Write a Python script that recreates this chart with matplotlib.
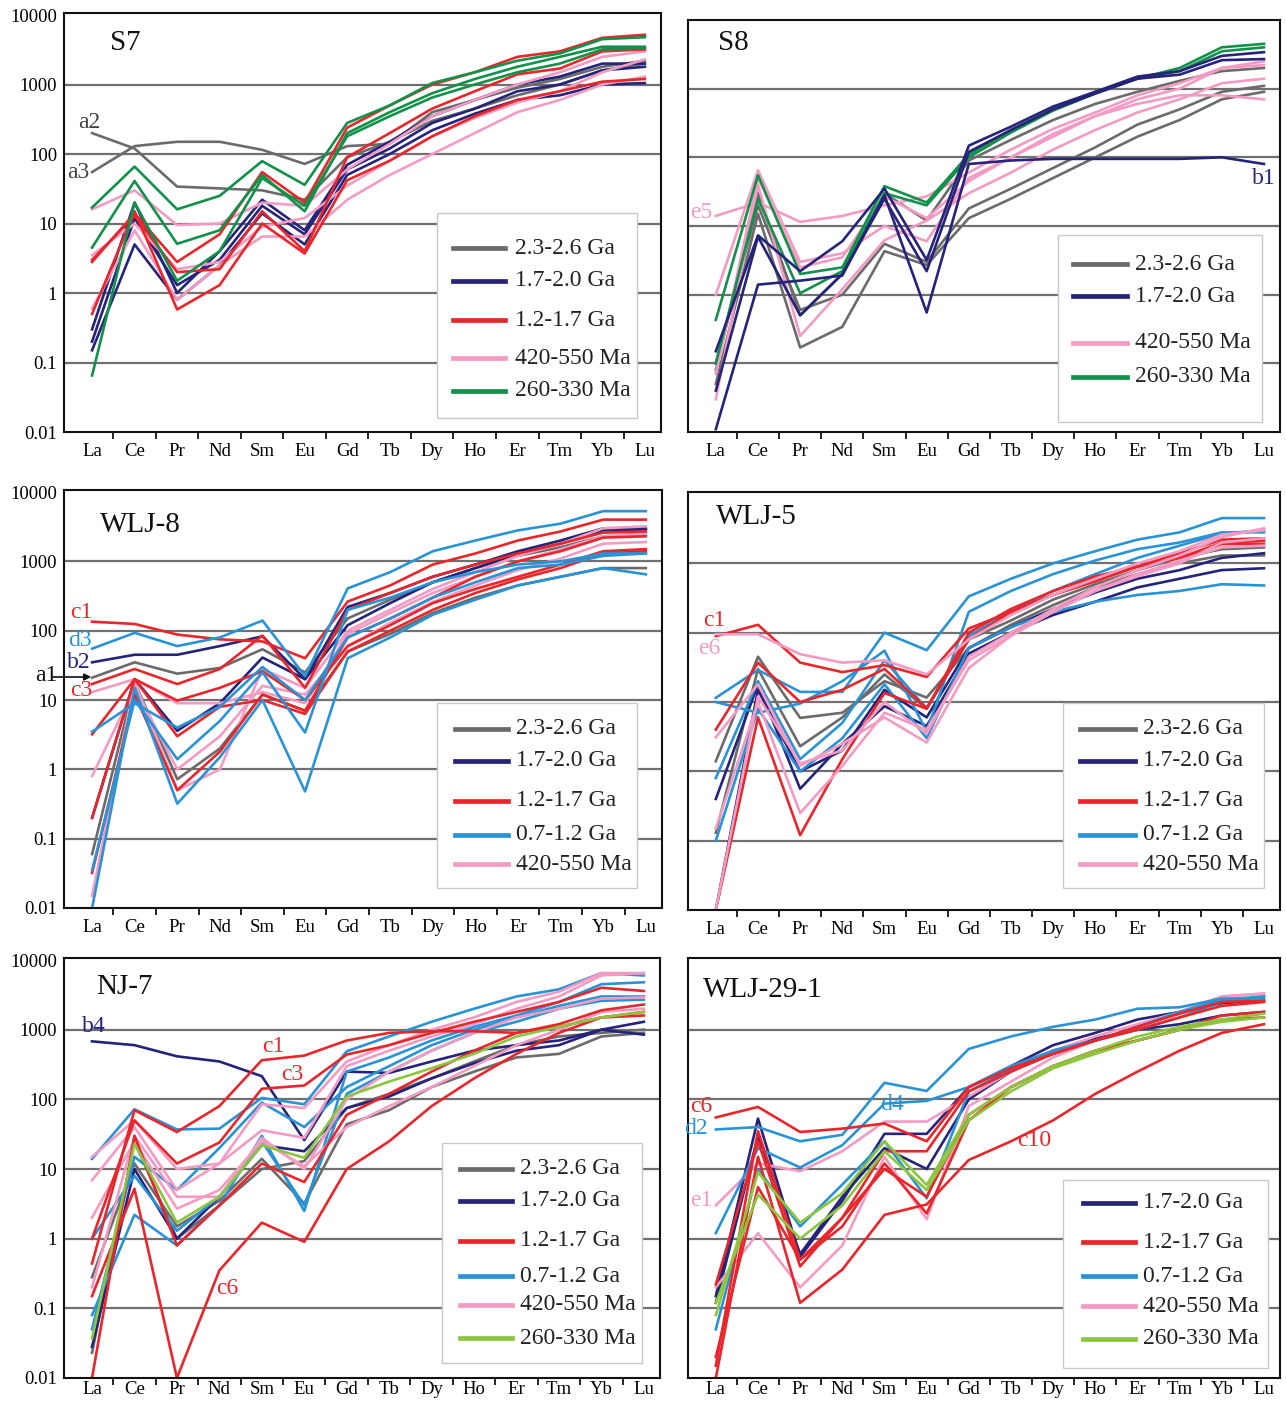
import numpy as np
import matplotlib
matplotlib.use("Agg")
import matplotlib.pyplot as plt
from matplotlib.lines import Line2D
from matplotlib.patches import Rectangle, FancyArrowPatch
from matplotlib.ticker import NullLocator

plt.rcParams['font.family'] = ['Liberation Serif', 'DejaVu Serif']

W, H = 1286, 1403

ree = ["La", "Ce", "Pr", "Nd", "Sm", "Eu", "Gd", "Tb", "Dy", "Ho", "Er", "Tm", "Yb", "Lu"]
y_ticks = [0.01, 0.1, 1, 10, 100, 1000, 10000]
y_tick_labels = ["0.01", "0.1", "1", "10", "100", "1000", "10000"]

colors = {
    "gray": "#6b6b6b", "navy": "#25237a", "red": "#e8262b", "blue": "#2a93d5",
    "pink": "#f39bc3", "green": "#11914a", "lime": "#8cc63e",
}
group_labels = {
    "gray": "2.3-2.6 Ga", "navy": "1.7-2.0 Ga", "red": "1.2-1.7 Ga",
    "blue": "0.7-1.2 Ga", "pink": "420-550 Ma", "green": "260-330 Ma", "lime": "260-330 Ma",
}

# ---- S7 ----
S7_GRAY = [
    [200, 120, 34, 32, 30, 22, 90, 150, 300, 450, 700, 1000, 1600, 2000],
    [55, 130, 150, 150, 115, 72, 130, 140, 400, 600, 900, 1200, 1800, 2200],
]
S7_NAVY = [
    [0.3, 20, 1.0, 4, 22, 8, 70, 150, 350, 600, 1000, 1300, 2000, 2000],
    [0.15, 5, 0.8, 2.5, 14, 5, 50, 100, 220, 380, 600, 700, 1000, 1050],
    [0.2, 12, 1.3, 3, 18, 7, 60, 120, 280, 450, 800, 1000, 1600, 1800],
]
S7_RED = [
    [2.8, 14, 2.8, 7, 55, 20, 240, 500, 1000, 1500, 2500, 3000, 4700, 5200],
    [0.5, 15, 0.58, 1.3, 10, 3.7, 42, 80, 180, 350, 600, 800, 1100, 1200],
    [3, 13, 2, 2.2, 15, 4, 90, 200, 450, 800, 1400, 1700, 3000, 3200],
]
S7_PINK = [
    [16, 30, 9.5, 10, 20, 18, 60, 140, 350, 600, 1000, 1500, 2500, 3000],
    [0.6, 8, 0.8, 2.5, 6.5, 6.5, 22, 50, 100, 200, 400, 600, 1000, 1300],
    [3.5, 10, 2.2, 2.8, 9, 12, 35, 80, 180, 330, 550, 800, 1500, 2300],
]
S7_GREEN = [
    [17, 66, 16, 25, 79, 36, 280, 500, 1050, 1500, 2200, 2800, 4500, 4800],
    [4.5, 41, 5.1, 8, 50, 15, 200, 400, 750, 1200, 1800, 2500, 3500, 3500],
    [0.065, 20, 1.5, 4, 45, 18, 180, 350, 650, 1000, 1500, 2000, 3200, 3300],
]

# ---- S8 ----
S8_GRAY = [
    [0.05, 15, 0.17, 0.34, 4.3, 2.7, 13, 25, 50, 100, 200, 350, 700, 900],
    [0.1, 20, 0.6, 1, 5.5, 3, 18, 35, 70, 140, 300, 500, 900, 1100],
    [0.08, 30, 0.5, 2, 30, 12, 90, 180, 350, 600, 900, 1300, 1800, 2000],
]
S8_NAVY = [
    [0.011, 1.4, 1.6, 1.9, 28, 0.55, 80, 90, 95, 95, 95, 95, 100, 80],
    [0.15, 7.3, 2.2, 6, 35, 3.2, 148, 280, 550, 900, 1500, 1800, 3000, 3400],
    [0.04, 7, 0.5, 2, 25, 2.2, 120, 250, 500, 850, 1400, 1600, 2600, 2700],
]
S8_PINK = [
    [14, 22, 11.5, 14, 20, 27, 60, 130, 260, 450, 800, 1200, 2000, 2500],
    [1, 65, 3, 4, 10, 6, 50, 100, 200, 400, 700, 1000, 2000, 2200],
    [0.03, 40, 0.25, 1.2, 6.2, 12, 30, 60, 130, 250, 450, 700, 1200, 1400],
    [0.07, 50, 2.5, 3.5, 27, 13, 45, 100, 220, 400, 600, 800, 800, 700],
]
S8_GREEN = [
    [0.43, 55, 2, 2.5, 38, 22, 110, 250, 500, 900, 1400, 2000, 4000, 4500],
    [0.1, 25, 1.05, 2.2, 30, 20, 100, 230, 480, 850, 1400, 1800, 3500, 4000],
]

# ---- WLJ-8 ----
W8_GRAY = [
    [21, 35, 24, 29, 54, 25, 150, 280, 500, 800, 1200, 1600, 2300, 2500],
    [0.06, 18, 0.72, 2, 12, 7, 50, 90, 180, 300, 450, 600, 800, 800],
]
W8_NAVY = [
    [35, 45, 45, 60, 83, 20, 220, 350, 600, 900, 1400, 2000, 3000, 3000],
    [0.2, 20, 3.6, 9, 41, 20, 120, 250, 500, 800, 1300, 1800, 2800, 2900],
]
W8_RED = [
    [135, 125, 88, 75, 70, 40, 263, 450, 900, 1300, 2000, 2700, 4000, 4000],
    [17, 28, 17, 28, 85, 15, 200, 350, 600, 900, 1300, 1800, 2600, 2700],
    [3.2, 20, 9.8, 15, 26, 10, 60, 120, 250, 400, 600, 900, 1400, 1500],
    [0.2, 20, 3, 8, 10, 6.3, 50, 100, 200, 350, 550, 800, 1300, 1400],
    [0.032, 12, 0.5, 1.8, 12, 7, 80, 150, 300, 600, 1000, 1400, 2200, 2300],
]
W8_BLUE = [
    [55, 93, 60, 80, 140, 22, 407, 700, 1400, 2000, 2800, 3500, 5300, 5300],
    [3.5, 9, 4, 8, 30, 10, 80, 150, 300, 500, 800, 900, 1200, 1300],
    [0.01, 15, 0.32, 1.5, 10, 0.48, 40, 80, 170, 280, 450, 600, 800, 650],
    [0.035, 10, 1.4, 5, 25, 3.4, 200, 300, 500, 700, 900, 1000, 1300, 1300],
]
W8_PINK = [
    [13, 20, 9, 9, 13, 9, 90, 180, 350, 600, 1000, 1500, 2300, 2500],
    [0.8, 15, 1, 3, 16, 12, 60, 130, 260, 450, 750, 1100, 1800, 1900],
    [0.015, 18, 0.5, 1, 28, 15, 100, 200, 400, 700, 1200, 1800, 3000, 3200],
]

# ---- WLJ-5 ----
W5_GRAY = [
    [1.4, 45, 5.9, 7, 20, 11.6, 60, 130, 250, 450, 700, 1000, 1300, 1300],
    [0.13, 30, 2.3, 6, 25, 8, 80, 150, 300, 500, 800, 1200, 1600, 1700],
]
W5_NAVY = [
    [0.4, 18, 0.56, 2.5, 8.7, 4.5, 50, 100, 180, 280, 450, 600, 800, 850],
    [0.01, 15, 1, 2, 15, 6, 60, 120, 220, 380, 600, 800, 1200, 1400],
]
W5_RED = [
    [89, 130, 37, 27, 34, 23, 115, 200, 350, 550, 900, 1200, 2000, 2100],
    [4, 37, 10, 15, 30, 8.2, 80, 200, 350, 600, 900, 1400, 2200, 2300],
    [0.01, 6, 0.12, 1.5, 13.5, 8, 100, 220, 400, 650, 900, 1200, 1900, 1900],
]
W5_BLUE = [
    [11.5, 29, 14, 14, 100, 56, 334, 600, 1000, 1500, 2200, 2800, 4500, 4500],
    [10, 7, 9.5, 20, 55, 3.8, 200, 400, 700, 1100, 1600, 2000, 2800, 2800],
    [0.1, 8, 1, 3, 18, 3, 60, 120, 200, 280, 350, 400, 500, 480],
    [0.8, 20, 1.5, 5, 40, 8, 90, 200, 400, 700, 1200, 1800, 2700, 3000],
]
W5_PINK = [
    [95, 95, 49, 37, 40, 25, 80, 180, 350, 600, 1000, 1500, 2600, 3000],
    [3.1, 18, 1.2, 2.5, 6, 2.6, 31, 90, 200, 400, 650, 1000, 2000, 2300],
    [0.15, 10, 0.25, 1.2, 7, 4, 40, 90, 200, 400, 700, 1100, 1700, 1800],
    [0.01, 12, 1.3, 2, 10, 3.5, 45, 100, 220, 450, 800, 1300, 2400, 3200],
]

# ---- NJ-7 ----
N7_GRAY = [
    [0.28, 12, 1.5, 3.5, 14, 3.2, 44, 70, 150, 250, 400, 450, 800, 900],
    [0.023, 25, 1.0, 3, 10, 13, 75, 120, 200, 350, 600, 800, 900, 1000],
]
N7_NAVY = [
    [680, 600, 415, 350, 215, 26, 250, 240, 350, 500, 600, 700, 1000, 1300],
    [0.028, 10, 1, 4, 22, 18, 75, 110, 200, 330, 500, 600, 1000, 850],
]
N7_RED = [
    [0.44, 70, 34, 80, 365, 425, 700, 900, 950, 950, 900, 1100, 1500, 1600],
    [1, 50, 12, 24, 142, 158, 440, 600, 900, 1300, 1800, 2500, 4000, 3600],
    [0.15, 5.2, 0.01, 0.35, 1.7, 0.9, 10, 25, 80, 200, 450, 900, 1500, 1800],
    [0.01, 30, 0.8, 3, 12, 6.5, 60, 120, 250, 500, 900, 1200, 1900, 2300],
]
N7_BLUE = [
    [14, 72, 37, 38, 105, 85, 490, 800, 1300, 2000, 3000, 3800, 6500, 6000],
    [0.08, 2.2, 0.8, 3, 30, 2.5, 250, 400, 700, 1100, 1600, 2500, 4500, 4800],
    [0.05, 15, 5, 20, 90, 40, 150, 300, 600, 1000, 1500, 2200, 3000, 3000],
    [1, 8, 1.3, 4, 25, 3, 120, 250, 500, 900, 1300, 2000, 2600, 2700],
]
N7_PINK = [
    [15, 50, 10, 12, 36, 28, 300, 500, 800, 1200, 2000, 3000, 6000, 6500],
    [6.9, 40, 5, 12, 85, 75, 350, 600, 1000, 1500, 2500, 3500, 6500, 6500],
    [2, 25, 2.7, 5, 25, 11, 40, 80, 150, 300, 600, 1000, 1800, 2000],
    [0.2, 30, 4, 4, 28, 10, 100, 250, 500, 900, 1500, 2000, 2800, 2900],
]
N7_LIME = [
    [0.037, 23, 1.7, 4, 22, 14.5, 110, 180, 280, 450, 800, 1100, 1500, 1800],
]

# ---- WLJ-29-1 ----
W29_NAVY = [
    [0.15, 53, 0.55, 3.5, 32, 32, 150, 300, 600, 900, 1400, 1800, 2400, 2600],
    [0.12, 30, 0.6, 4, 20, 10, 100, 250, 500, 750, 1000, 1200, 1600, 1800],
]
W29_RED = [
    [55, 78, 34, 38, 45, 25, 150, 280, 450, 700, 1000, 1500, 2200, 2500],
    [0.01, 15, 0.12, 0.36, 2.2, 3.1, 13.5, 25, 50, 120, 250, 500, 900, 1200],
    [0.015, 35, 0.5, 1.5, 12, 2.3, 50, 150, 300, 500, 700, 1000, 1600, 1800],
    [0.22, 25, 0.4, 2, 18, 18, 130, 250, 450, 700, 1100, 1700, 2500, 2600],
    [0.02, 5.5, 0.5, 2, 10, 4, 60, 150, 300, 500, 700, 1000, 1400, 1500],
]
W29_BLUE = [
    [37, 40, 25, 31, 173, 132, 530, 800, 1100, 1400, 2000, 2100, 2800, 2800],
    [1.2, 20, 10.5, 22, 87, 95, 150, 300, 500, 700, 1100, 1800, 2700, 3000],
    [0.05, 10, 1.5, 6, 25, 3.8, 130, 270, 500, 700, 1000, 1500, 2500, 3000],
]
W29_PINK = [
    [3, 12, 9.3, 18, 48, 48, 110, 250, 500, 800, 1200, 1800, 3000, 3300],
    [0.2, 1.2, 0.2, 0.8, 15, 1.9, 80, 180, 400, 700, 1100, 1800, 3000, 3300],
]
W29_LIME = [
    [0.08, 9, 1.7, 4.5, 25, 5.9, 60, 150, 300, 500, 800, 1100, 1400, 1700],
    [0.12, 4.3, 1, 3, 18, 5, 50, 130, 280, 450, 700, 1000, 1300, 1500],
]

fig = plt.figure(figsize=(W / 100, H / 100), dpi=100)


def fx(x):
    return x / W


def fy(y):
    return 1 - y / H


def make_axes(box, show_y, ytop, label_pad):
    x0, y0, x1, y1 = box
    ax = fig.add_axes([fx(x0), fy(y1), (x1 - x0) / W, (y1 - y0) / H])
    ax.set_yscale('log')
    ax.set_ylim(0.0105, ytop)
    ax.set_xlim(-0.66, 13.38)
    ax.set_xticks(range(len(ree)))
    ax.set_xticklabels(ree)
    ax.set_xticks(np.arange(0.5, 13, 1), minor=True)
    ax.tick_params(axis='x', which='major', length=0, pad=label_pad, labelsize=13.5)
    ax.tick_params(axis='x', which='minor', length=5, width=1.2, direction='out')
    ax.set_yticks(y_ticks)
    ax.set_yticklabels(y_tick_labels if show_y else [])
    ax.yaxis.set_minor_locator(NullLocator())
    ax.tick_params(axis='y', length=0, pad=5, labelsize=13.5)
    for v in [0.1, 1, 10, 100, 1000]:
        ax.axhline(v, color='#707070', lw=1.6, zorder=1)
    for s in ax.spines.values():
        s.set_linewidth(1.5)
        s.set_color('#111111')
    return ax


def draw_groups(ax, groups):
    x = np.arange(len(ree))
    for key, profiles in groups:
        for vals in profiles:
            ax.plot(x, vals, color=colors[key], lw=1.9, zorder=2)


def draw_legend(box, line_x, text_x, rows):
    x0, y0, x1, y1 = box
    fig.add_artist(Rectangle((fx(x0), fy(y1)), (x1 - x0) / W, (y1 - y0) / H,
                             transform=fig.transFigure, fc='white', ec='#c8c8c8',
                             lw=1.0, zorder=5))
    for key, y in rows:
        fig.add_artist(Line2D([fx(line_x[0]), fx(line_x[1])], [fy(y), fy(y)],
                              transform=fig.transFigure, color=colors[key],
                              lw=3.4, zorder=6))
        fig.text(fx(text_x), fy(y), group_labels[key], fontsize=17,
                 va='center', ha='left', zorder=6, color='#222222')


def label(x, y, s, key=None, color=None, size=17):
    c = color if color is not None else colors[key]
    fig.text(fx(x), fy(y), s, color=c, fontsize=size, ha='left', va='center')


panels = [
    dict(title="S7", box=(64, 13, 661, 432), show_y=True, title_xy=(110, 43),
         ytop=10700, pad=8,
         groups=[("gray", S7_GRAY), ("navy", S7_NAVY), ("pink", S7_PINK),
                 ("red", S7_RED), ("green", S7_GREEN)],
         legend=((437, 213, 637, 418), (453, 505), 515,
                 [("gray", 248), ("navy", 281), ("red", 320), ("pink", 358), ("green", 391)])),
    dict(title="S8", box=(688, 20, 1280, 432), show_y=False, title_xy=(718, 43),
         ytop=8500, pad=8,
         groups=[("gray", S8_GRAY), ("pink", S8_PINK), ("green", S8_GREEN),
                 ("navy", S8_NAVY)],
         legend=((1058, 235, 1262, 422), (1073, 1127), 1135,
                 [("gray", 264), ("navy", 296), ("pink", 343), ("green", 377)])),
    dict(title="WLJ-8", box=(64, 490, 662, 908), show_y=True, title_xy=(100, 525),
         ytop=10700, pad=8,
         groups=[("gray", W8_GRAY), ("navy", W8_NAVY), ("pink", W8_PINK),
                 ("red", W8_RED), ("blue", W8_BLUE)],
         legend=((437, 703, 637, 888), (455, 508), 516,
                 [("gray", 729), ("navy", 761), ("red", 801), ("blue", 835), ("pink", 864)])),
    dict(title="WLJ-5", box=(688, 492, 1280, 910), show_y=False, title_xy=(716, 517),
         ytop=10700, pad=8,
         groups=[("gray", W5_GRAY), ("navy", W5_NAVY), ("blue", W5_BLUE),
                 ("red", W5_RED), ("pink", W5_PINK)],
         legend=((1063, 703, 1264, 888), (1080, 1135), 1143,
                 [("gray", 729), ("navy", 761), ("red", 801), ("blue", 835), ("pink", 864)])),
    dict(title="NJ-7", box=(64, 958, 660, 1378), show_y=True, title_xy=(96, 987),
         ytop=10700, pad=2,
         groups=[("gray", N7_GRAY), ("navy", N7_NAVY), ("blue", N7_BLUE),
                 ("pink", N7_PINK), ("red", N7_RED), ("lime", N7_LIME)],
         legend=((442, 1143, 642, 1363), (460, 512), 520,
                 [("gray", 1169), ("navy", 1201), ("red", 1241), ("blue", 1276),
                  ("pink", 1305), ("lime", 1338)])),
    dict(title="WLJ-29-1", box=(688, 958, 1280, 1378), show_y=False, title_xy=(703, 990),
         ytop=10700, pad=2,
         groups=[("navy", W29_NAVY), ("pink", W29_PINK), ("blue", W29_BLUE),
                 ("red", W29_RED), ("lime", W29_LIME)],
         legend=((1063, 1180, 1268, 1368), (1083, 1135), 1143,
                 [("navy", 1203), ("red", 1242), ("blue", 1276), ("pink", 1306),
                  ("lime", 1339)])),
]

for p in panels:
    ax = make_axes(p["box"], p["show_y"], p["ytop"], p["pad"])
    draw_groups(ax, p["groups"])
    fig.text(fx(p["title_xy"][0]), fy(p["title_xy"][1]), p["title"],
             fontsize=21, ha='left', va='center', color='#111111')
    draw_legend(*p["legend"])

# sample labels next to individual profiles
label(78, 122, "a2", color='#444444')
label(67, 172, "a3", color='#444444')
label(690, 213, "e5", "pink")
label(1252, 178, "b1", "navy")
label(70, 613, "c1", "red")
label(68, 640, "d3", "blue")
label(67, 662, "b2", "navy")
label(35, 676, "a1", color='#111111')
label(70, 690, "c3", "red")
fig.add_artist(FancyArrowPatch((fx(50), fy(677)), (fx(94), fy(677)),
                               transform=fig.transFigure, arrowstyle='-|>',
                               mutation_scale=10, color='#111111', lw=1.2, zorder=7))
label(703, 620, "c1", "red")
label(698, 648, "e6", "pink")
label(82, 1027, "b4", "navy")
label(262, 1047, "c1", "red")
label(281, 1075, "c3", "red")
label(216, 1288, "c6", "red")
label(690, 1107, "c6", "red")
label(684, 1128, "d2", "blue")
label(880, 1104, "d4", "blue")
label(690, 1200, "e1", "pink")
label(1017, 1140, "c10", "red")

fig.savefig("out.png", dpi=100)
